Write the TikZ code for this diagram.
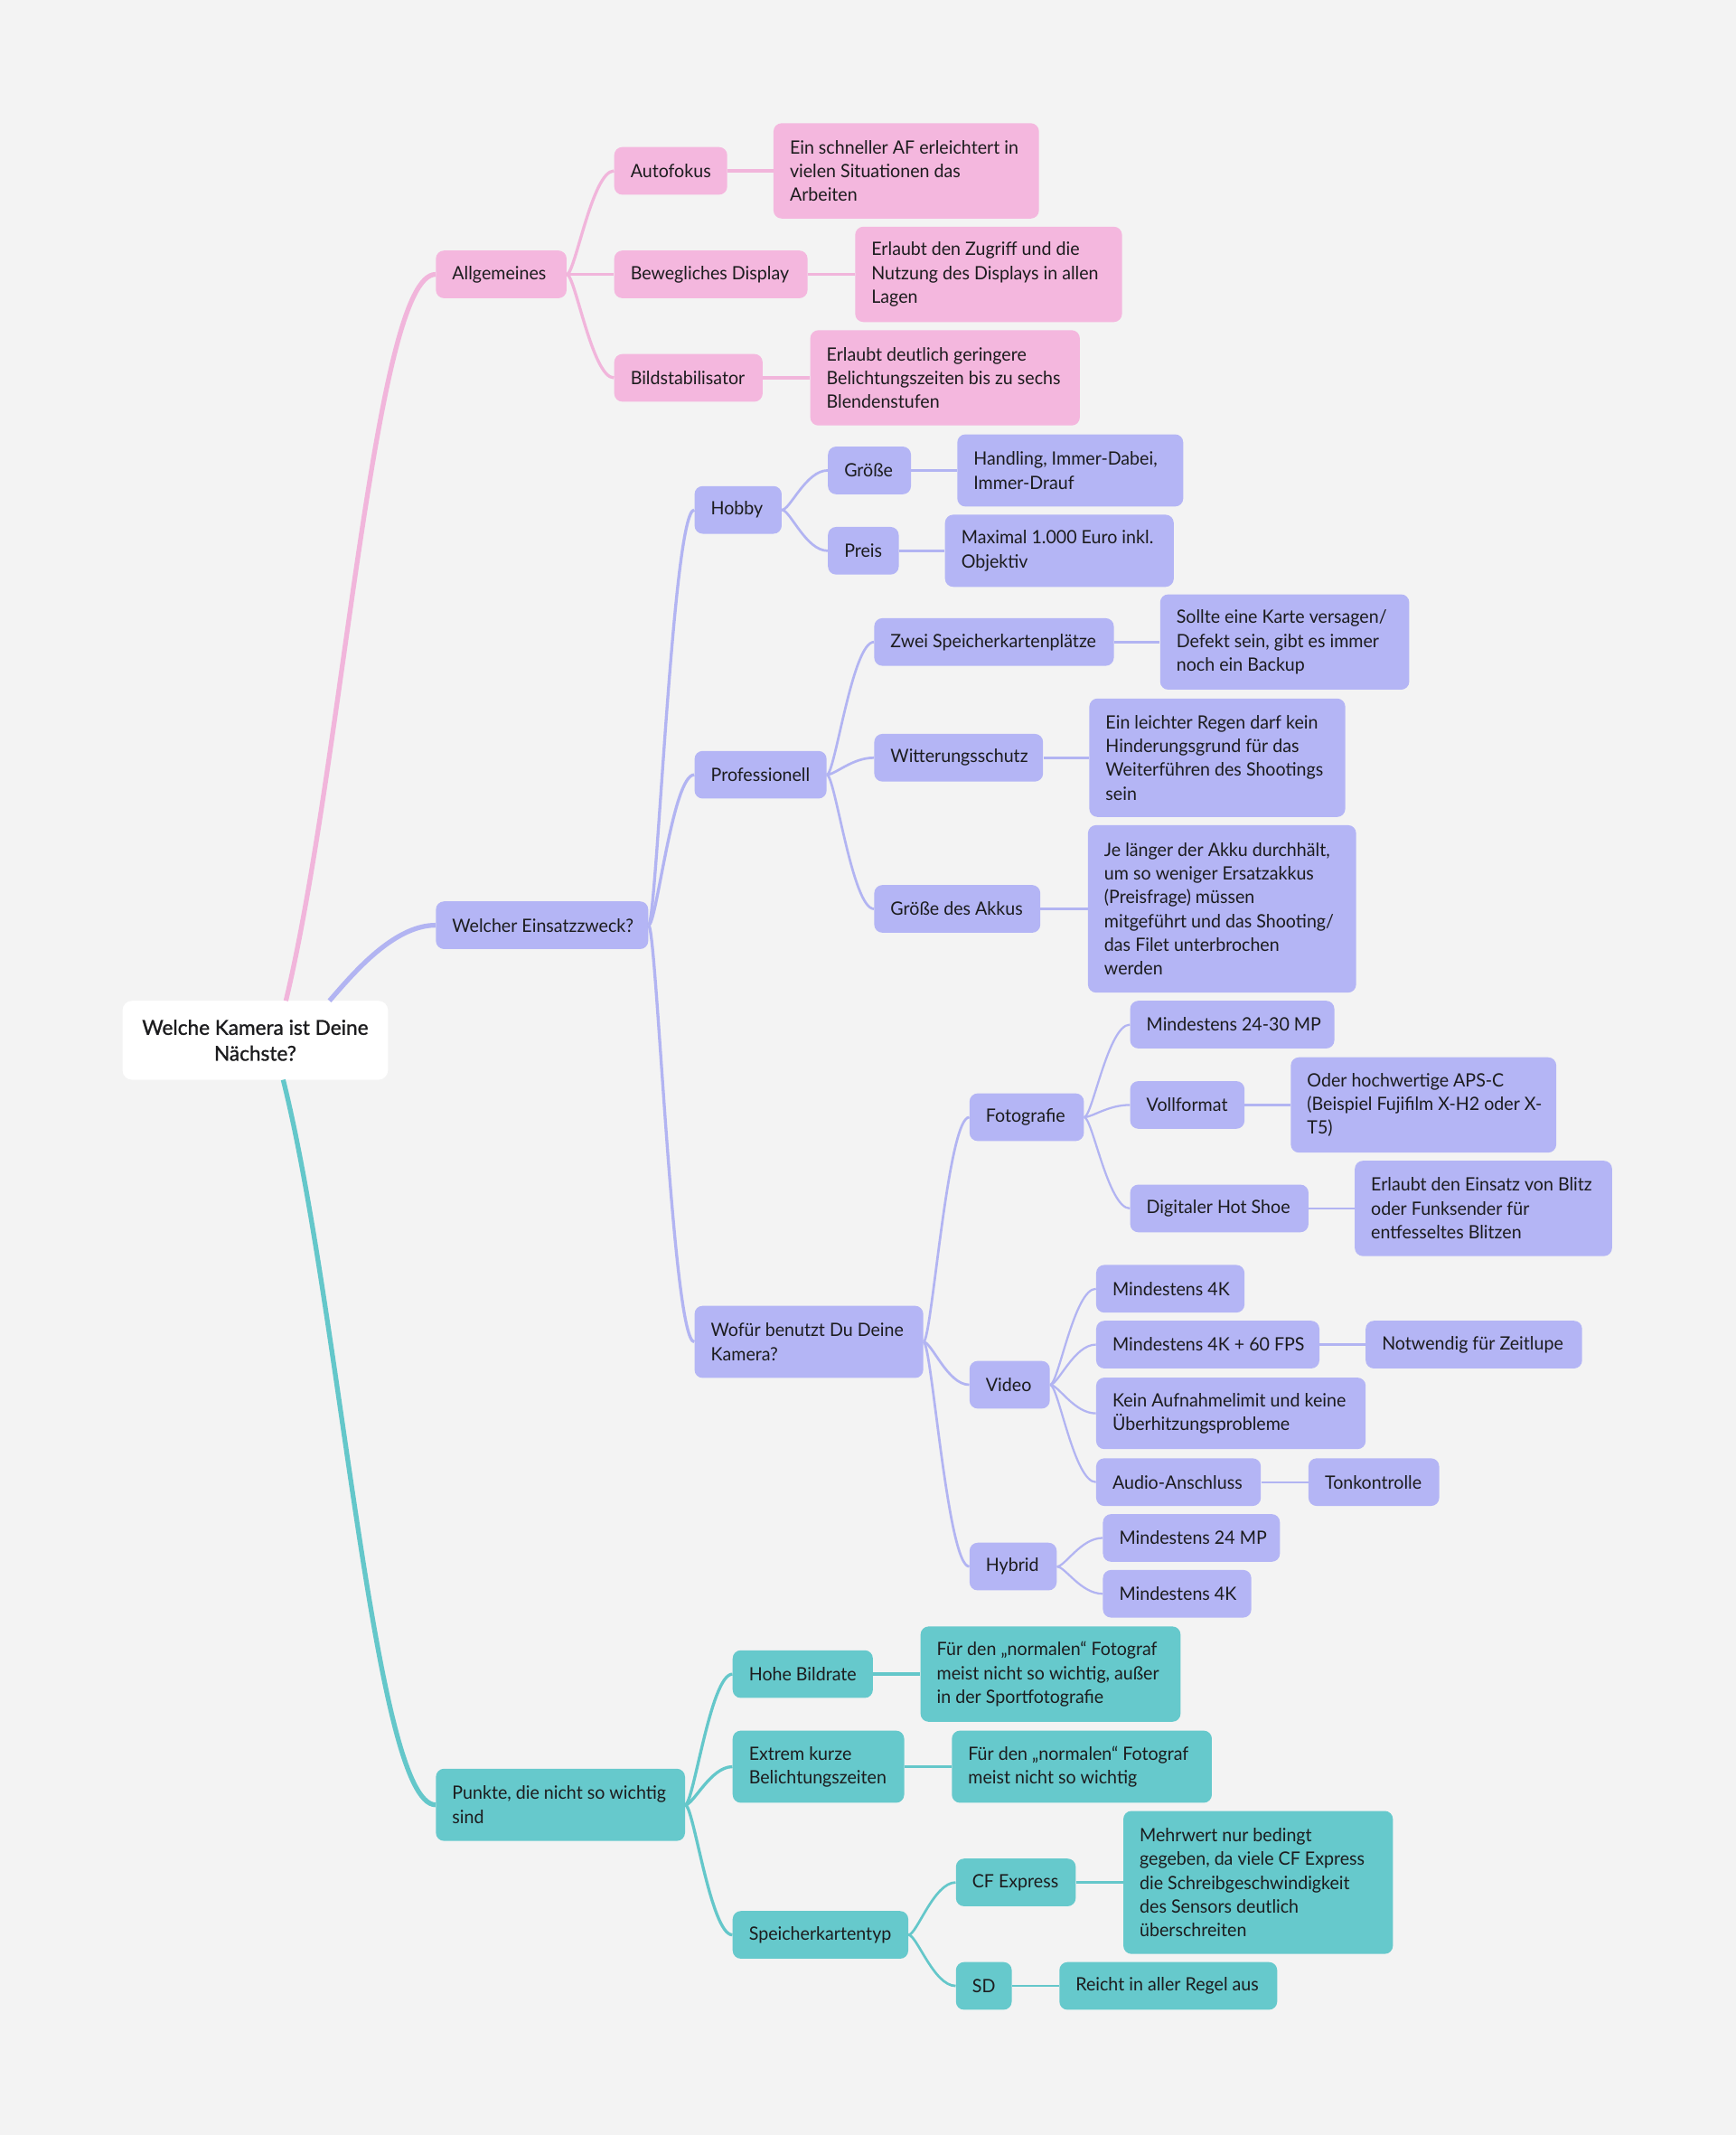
\documentclass[tikz,border=0pt]{standalone}
\usepackage{fontspec}
\setmainfont{Lato}[FakeStretch=0.965]
\newfontfamily\rootf{Lato}[FakeBold=1.2]
\usetikzlibrary{calc}
\definecolor{bg}{RGB}{243,243,243}
\definecolor{txt}{RGB}{28,28,30}
\definecolor{pkF}{RGB}{244,183,222}
\definecolor{pkL}{RGB}{241,181,219}
\definecolor{lvF}{RGB}{180,181,245}
\definecolor{lvL}{RGB}{178,180,242}
\definecolor{tlF}{RGB}{102,201,204}
\definecolor{tlL}{RGB}{100,199,202}
\newcommand\mainf{\fontsize{13.5}{17.5}\selectfont}
\tikzset{
  mmbox/.style={rounded corners=6pt, inner sep=0pt, anchor=west},
  mmtxt/.style={inner sep=0pt, anchor=west, align=left, font=\mainf, text=txt},
  lkA/.style={line width=3.5pt},
  lkB/.style={line width=2.2pt},
  lkC/.style={line width=1.8pt},
  lkD/.style={line width=1.5pt},
}
\newcommand\bx[7]{%
  \pgfmathsetmacro\bw{#4-#2}\pgfmathsetmacro\tx{#2+12}%
  \pgfmathsetmacro\bh{#5-#3}\pgfmathsetmacro\cy{(#3+#5)/2}%
  \node[mmbox, fill=#6, minimum width=\bw pt, minimum height=\bh pt] (#1) at (#2,\cy) {};
  \node[mmtxt] (#1-t) at (\tx,\cy) {#7};}
\newcommand\mlink[4]{\draw[#1,#2] (#3.east) .. controls ($(#3.east)+(6,0)$) and ($(#4.west)+(-16,0)$) .. (#4.west);}
\begin{document}
\begin{tikzpicture}[x=1pt,y=-1pt]
\fill[bg] (0,0) rectangle (1275,1568);
\useasboundingbox (0,0) rectangle (1275,1568);

% root
\node[rounded corners=7pt, fill=white, minimum width=195pt, minimum height=58pt, align=center,
  font=\rootf\fontsize{15}{19}\selectfont, text=txt, inner sep=0pt] (root) at (187.5,764)
  {Welche Kamera ist Deine\\Nächste?};
\coordinate (rP) at (210,735);
\coordinate (rL) at (242,735);
\coordinate (rT) at (208,793);

% pink
\bx{allg}{320}{184}{416}{219}{pkF}{Allgemeines}
\bx{auto}{451}{108}{534}{143}{pkF}{Autofokus}
\bx{autoD}{568}{90.5}{763}{160.5}{pkF}{Ein schneller AF erleichtert in\\vielen Situationen das\\Arbeiten}
\bx{disp}{451}{184}{593}{219}{pkF}{Bewegliches Display}
\bx{dispD}{628}{166.5}{824}{236.5}{pkF}{Erlaubt den Zugriff und die\\Nutzung des Displays in allen\\Lagen}
\bx{bild}{451}{260}{560}{295}{pkF}{Bildstabilisator}
\bx{bildD}{595}{242.5}{793}{312.5}{pkF}{Erlaubt deutlich geringere\\Belichtungszeiten bis zu sechs\\Blendenstufen}

% lavender
\bx{welch}{320}{662}{476}{697}{lvF}{Welcher Einsatzzweck?}
\bx{hobby}{510}{357}{574}{392}{lvF}{Hobby}
\bx{groe}{608}{328}{669}{363}{lvF}{Größe}
\bx{groeD}{703}{319}{869}{372}{lvF}{Handling, Immer-Dabei,\\Immer-Drauf}
\bx{preis}{608}{387}{660}{422}{lvF}{Preis}
\bx{preisD}{694}{378}{862}{431}{lvF}{Maximal 1.000 Euro inkl.\\Objektiv}
\bx{prof}{510}{551.5}{607}{586.5}{lvF}{Professionell}
\bx{zwei}{642}{454}{818}{489}{lvF}{Zwei Speicherkartenplätze}
\bx{zweiD}{852}{436.5}{1035}{506.5}{lvF}{Sollte eine Karte versagen/\\Defekt sein, gibt es immer\\noch ein Backup}
\bx{witt}{642}{539}{766}{574}{lvF}{Witterungsschutz}
\bx{wittD}{800}{513}{988}{600}{lvF}{Ein leichter Regen darf kein\\Hinderungsgrund für das\\Weiterführen des Shootings\\sein}
\bx{akku}{642}{650}{764}{685}{lvF}{Größe des Akkus}
\bx{akkuD}{799}{606}{996}{729}{lvF}{Je länger der Akku durchhält,\\um so weniger Ersatzakkus\\(Preisfrage) müssen\\mitgeführt und das Shooting/\\das Filet unterbrochen\\werden}
\bx{wof}{510}{959}{678}{1012}{lvF}{Wofür benutzt Du Deine\\Kamera?}
\bx{foto}{712}{803}{796}{838}{lvF}{Fotografie}
\bx{mpa}{830}{735}{980}{770}{lvF}{Mindestens 24-30 MP}
\bx{voll}{830}{794}{914}{829}{lvF}{Vollformat}
\bx{vollD}{948}{776.5}{1143}{846.5}{lvF}{Oder hochwertige APS-C\\(Beispiel Fujifilm X-H2 oder X-\\T5)}
\bx{hot}{830}{870}{961}{905}{lvF}{Digitaler Hot Shoe}
\bx{hotD}{995}{852.5}{1184}{922.5}{lvF}{Erlaubt den Einsatz von Blitz\\oder Funksender für\\entfesseltes Blitzen}
\bx{video}{712}{999.5}{771}{1034.5}{lvF}{Video}
\bx{vka}{805}{929}{914}{964}{lvF}{Mindestens 4K}
\bx{vkb}{805}{970}{969}{1005}{lvF}{Mindestens 4K + 60 FPS}
\bx{zeit}{1003}{970}{1162}{1005}{lvF}{Notwendig für Zeitlupe}
\bx{kein}{805}{1011.75}{1003}{1064.25}{lvF}{Kein Aufnahmelimit und keine\\Überhitzungsprobleme}
\bx{audio}{805}{1071}{926}{1106}{lvF}{Audio-Anschluss}
\bx{ton}{961}{1071}{1057}{1106}{lvF}{Tonkontrolle}
\bx{hyb}{712}{1133}{776}{1168}{lvF}{Hybrid}
\bx{hma}{810}{1112}{940}{1147}{lvF}{Mindestens 24 MP}
\bx{hmb}{810}{1153}{919}{1188}{lvF}{Mindestens 4K}

% teal
\bx{punkte}{320}{1299}{503}{1352}{tlF}{Punkte, die nicht so wichtig\\sind}
\bx{hohe}{538}{1212}{641}{1247}{tlF}{Hohe Bildrate}
\bx{hoheD}{676}{1194.5}{867}{1264.5}{tlF}{Für den „normalen“ Fotograf\\meist nicht so wichtig, außer\\in der Sportfotografie}
\bx{extr}{538}{1271}{664}{1324}{tlF}{Extrem kurze\\Belichtungszeiten}
\bx{extrD}{699}{1271}{890}{1324}{tlF}{Für den „normalen“ Fotograf\\meist nicht so wichtig}
\bx{speich}{538}{1403.5}{667}{1438.5}{tlF}{Speicherkartentyp}
\bx{cf}{702}{1365}{790}{1400}{tlF}{CF Express}
\bx{cfD}{825}{1330}{1023}{1435}{tlF}{Mehrwert nur bedingt\\gegeben, da viele CF Express\\die Schreibgeschwindigkeit\\des Sensors deutlich\\überschreiten}
\bx{sd}{702}{1441}{743}{1476}{tlF}{SD}
\bx{sdD}{778}{1441}{938}{1476}{tlF}{Reicht in aller Regel aus}

% root connectors
\draw[lkA, pkL] (rP) .. controls (252,560) and (275,201.5) .. (allg.west);
\draw[lkA, lvL] (rL) .. controls (257,718) and (288,679.5) .. (welch.west);
\draw[lkA, tlL] (rT) .. controls (250,960) and (275,1325.5) .. (punkte.west);

% pink connectors
\mlink{lkB}{pkL}{allg}{auto}
\mlink{lkB}{pkL}{allg}{disp}
\mlink{lkB}{pkL}{allg}{bild}
\mlink{lkB}{pkL}{auto}{autoD}
\mlink{lkB}{pkL}{disp}{dispD}
\mlink{lkB}{pkL}{bild}{bildD}

% lavender connectors
\mlink{lkB}{lvL}{welch}{hobby}
\mlink{lkB}{lvL}{welch}{prof}
\mlink{lkB}{lvL}{welch}{wof}
\mlink{lkC}{lvL}{hobby}{groe}
\mlink{lkC}{lvL}{hobby}{preis}
\mlink{lkC}{lvL}{groe}{groeD}
\mlink{lkC}{lvL}{preis}{preisD}
\mlink{lkC}{lvL}{prof}{zwei}
\mlink{lkC}{lvL}{prof}{witt}
\mlink{lkC}{lvL}{prof}{akku}
\mlink{lkC}{lvL}{zwei}{zweiD}
\mlink{lkC}{lvL}{witt}{wittD}
\mlink{lkC}{lvL}{akku}{akkuD}
\mlink{lkC}{lvL}{wof}{foto}
\mlink{lkC}{lvL}{wof}{video}
\mlink{lkC}{lvL}{wof}{hyb}
\mlink{lkD}{lvL}{foto}{mpa}
\mlink{lkD}{lvL}{foto}{voll}
\mlink{lkD}{lvL}{foto}{hot}
\mlink{lkD}{lvL}{voll}{vollD}
\mlink{lkD}{lvL}{hot}{hotD}
\mlink{lkD}{lvL}{video}{vka}
\mlink{lkD}{lvL}{video}{vkb}
\mlink{lkD}{lvL}{video}{kein}
\mlink{lkD}{lvL}{video}{audio}
\mlink{lkD}{lvL}{vkb}{zeit}
\mlink{lkD}{lvL}{audio}{ton}
\mlink{lkD}{lvL}{hyb}{hma}
\mlink{lkD}{lvL}{hyb}{hmb}

% teal connectors
\mlink{lkB}{tlL}{punkte}{hohe}
\mlink{lkB}{tlL}{punkte}{extr}
\mlink{lkB}{tlL}{punkte}{speich}
\mlink{lkB}{tlL}{hohe}{hoheD}
\mlink{lkB}{tlL}{extr}{extrD}
\mlink{lkC}{tlL}{speich}{cf}
\mlink{lkC}{tlL}{speich}{sd}
\mlink{lkC}{tlL}{cf}{cfD}
\mlink{lkC}{tlL}{sd}{sdD}
\end{tikzpicture}
\end{document}
